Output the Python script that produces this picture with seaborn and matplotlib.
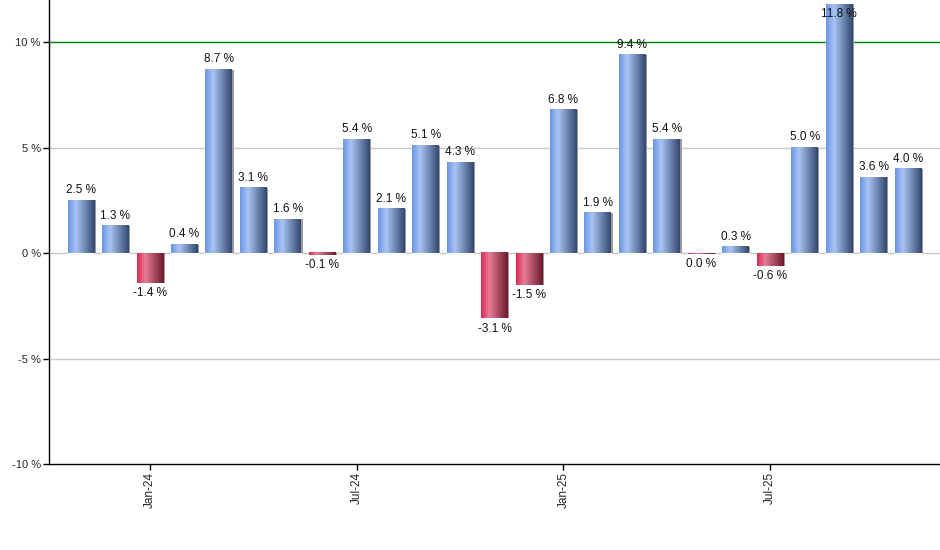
import numpy as np
import pandas as pd
import matplotlib
matplotlib.use("Agg")
import matplotlib.pyplot as plt
from matplotlib.colors import LinearSegmentedColormap
import seaborn as sns

# monthly returns, Nov-23 .. Nov-25
months = ["Nov-23", "Dec-23", "Jan-24", "Feb-24", "Mar-24", "Apr-24", "May-24",
          "Jun-24", "Jul-24", "Aug-24", "Sep-24", "Oct-24", "Nov-24", "Dec-24",
          "Jan-25", "Feb-25", "Mar-25", "Apr-25", "May-25", "Jun-25", "Jul-25",
          "Aug-25", "Sep-25", "Oct-25", "Nov-25"]
returns = [2.5, 1.3, -1.4, 0.4, 8.7, 3.1, 1.6, -0.1, 5.4, 2.1, 5.1, 4.3, -3.1,
           -1.5, 6.8, 1.9, 9.4, 5.4, -0.04, 0.3, -0.6, 5.0, 11.8, 3.6, 4.0]
shown_ticks = ["Jan-24", "Jul-24", "Jan-25", "Jul-25"]
y_ticks = [-10, -5, 0, 5, 10]
target = 10

df = pd.DataFrame({"month": months, "ret": returns})

sns.set_style("white")
plt.rcParams["font.family"] = ["Liberation Sans", "DejaVu Sans"]

fig = plt.figure(figsize=(9.4, 5.5), dpi=100)
ax = fig.add_axes([49 / 940, 86 / 550, 891 / 940, 464 / 550])

sns.barplot(data=df, x="month", y="ret", color="white", width=0.78, ax=ax,
            saturation=1, zorder=3)

blue = LinearSegmentedColormap.from_list(
    "blue", [(0, "#6b95e4"), (0.3, "#a9c4f4"), (1, "#33486e")])
red = LinearSegmentedColormap.from_list(
    "red", [(0, "#dc2a52"), (0.3, "#e57d96"), (1, "#6b1a2d")])
grad = np.linspace(0, 1, 64).reshape(1, -1)

ax.set_xlim(-0.93, len(months) - 0.07)
ax.set_ylim(-10, 12)

for patch, v in zip(ax.patches, df["ret"]):
    x0, y0 = patch.get_x(), patch.get_y()
    w, h = patch.get_width(), patch.get_height()
    cmap = blue if v >= 0 else red
    ax.imshow(grad, cmap=cmap, aspect="auto", zorder=4,
              extent=(x0, x0 + w, min(y0, y0 + h), max(y0, y0 + h)))
    # faint shadow on the right side
    ax.fill_between([x0 + w, x0 + w + 0.04], min(y0, y0 + h), max(y0, y0 + h),
                    color="#9a9a9a", lw=0, zorder=3)

    lab = f"{abs(v):.1f} %" if round(v, 1) == 0 else f"{v:.1f} %"
    if v >= 0:
        yy = min(v, 10.85)
        ax.annotate(lab, (x0 + w / 2, yy), xytext=(0, 3), textcoords="offset points",
                    ha="center", va="bottom", fontsize=8.5, color="#111111", zorder=6)
    else:
        ax.annotate(lab, (x0 + w / 2, v), xytext=(0, -3), textcoords="offset points",
                    ha="center", va="top", fontsize=8.5, color="#111111", zorder=6)

ax.set_yticks(y_ticks)
ax.set_yticklabels([f"{t} %" for t in y_ticks], fontsize=8)
for t in [-5, 0, 5]:
    ax.axhline(t, color="#c8c8c8", lw=1, zorder=1)
ax.axhline(target, color="#008000", lw=1, zorder=2)

pos = [months.index(m) for m in shown_ticks]
ax.set_xticks(pos)
ax.set_xticklabels(shown_ticks, rotation=90, fontsize=8.5)
ax.set_xlabel("")
ax.set_ylabel("")

for s in ["top", "right"]:
    ax.spines[s].set_visible(False)
for s in ["left", "bottom"]:
    ax.spines[s].set_color("black")
    ax.spines[s].set_linewidth(1)
ax.tick_params(axis="both", which="major", length=4, width=1, color="black",
               direction="out", left=True, bottom=True, pad=2)

fig.savefig("out.png", dpi=100, facecolor="white")
